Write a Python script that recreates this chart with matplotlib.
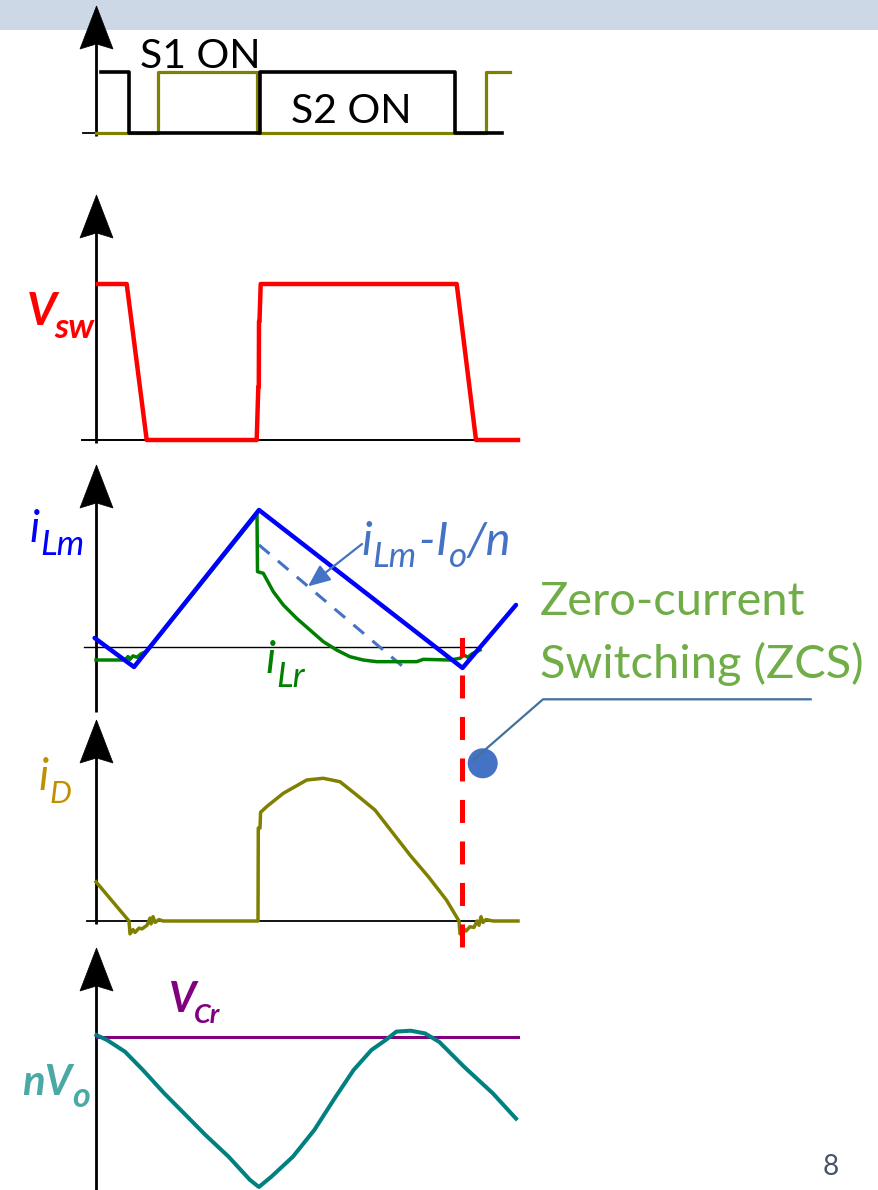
import matplotlib
matplotlib.use("Agg")
import matplotlib.pyplot as plt
from matplotlib.patches import Rectangle, Circle, Polygon, ConnectionPatch

plt.rcParams['font.family'] = ['Lato', 'DejaVu Sans']

W, H, DPI = 879, 1190, 100

# ---------------- waveform data (time in us, amplitudes normalised) ----------------
# gate drive of S1 and S2 (step levels, held until the next instant)
s1_t = [0.04, 0.32, 1.635, 3.58, 4.05]
s1_gate = [1, 0, 1, 0, 0]
s2_t = [-0.01, 0.615, 1.60, 3.895, 4.13]
s2_gate = [0, 1, 0, 1, 1]

# switch-node voltage
vsw_t = [0.01, 0.297, 0.497, 1.597, 1.613, 1.618, 1.62, 1.625, 1.637, 3.597, 3.79, 4.21]
vsw_v = [1.0, 1.0, 0.0, 0.0, 0.34, 0.34, 0.76, 0.76, 1.0, 1.0, 0.0, 0.0]

# magnetising current
ilm_t = [-0.024, 0.37, 1.62, 3.655, 4.19]
ilm_v = [0.066, -0.146, 1.0, -0.153, 0.307]

# magnetising current minus reflected load current
ilm_io_t = [1.62, 3.07]
ilm_io_v = [0.745, -0.15]

# resonant inductor current
ilr_t = [-0.01, 0.28, 0.31, 0.33, 0.36, 0.40, 0.44, 0.50, 1.60, 1.605, 1.663,
         1.763, 1.863, 1.997, 2.13, 2.263, 2.397, 2.53, 2.663, 2.797, 3.197, 3.263,
         3.53, 3.63, 3.67, 3.71, 3.75, 3.83]
ilr_v = [-0.095, -0.095, -0.07, -0.09, -0.065, -0.075, -0.05, -0.03, 0.97, 0.55, 0.538,
         0.404, 0.307, 0.209, 0.124, 0.039, -0.022, -0.071, -0.095, -0.107, -0.107, -0.09,
         -0.095, -0.082, -0.06, -0.075, -0.05, -0.022]

# output rectifier diode current
id_t = [-0.01, 0.32, 0.33, 0.36, 0.38, 0.42, 0.45, 0.50, 0.53, 0.54, 0.56, 0.58, 0.62,
        0.66, 1.61, 1.613, 1.63, 1.636, 1.697, 1.863, 2.097, 2.263, 2.43, 2.597, 2.78,
        2.959, 3.137, 3.316, 3.494, 3.62, 3.63, 3.66, 3.69, 3.73, 3.77, 3.80, 3.82, 3.84,
        3.86, 3.89, 3.96, 4.21]
id_v = [0.274, 0.0, -0.09, -0.06, -0.08, -0.05, -0.055, -0.03, 0.02, -0.02, 0.03, -0.01, 0.01,
        0.0, 0.0, 0.65, 0.65, 0.76, 0.80, 0.893, 0.986, 0.998, 0.974, 0.881, 0.776,
        0.615, 0.455, 0.308, 0.147, 0.0, -0.09, -0.05, -0.07, -0.04, -0.045, 0.0, -0.03, 0.03,
        -0.01, 0.01, 0.0, 0.0]

# flat level and resonant capacitor waveform
vcr_t = [0.0, 4.21]
vcr_v = [1.0, 1.0]
nvo_t = [-0.006, 0.1, 0.28, 0.459, 0.673, 0.887, 1.084, 1.316, 1.53, 1.619, 1.744, 1.959,
         2.173, 2.387, 2.566, 2.744, 2.887, 2.994, 3.137, 3.28, 3.423, 3.673, 3.959, 4.19]
nvo_v = [1.013, 0.98, 0.902, 0.78, 0.624, 0.48, 0.347, 0.202, 0.047, 0.0, 0.069, 0.202,
         0.38, 0.602, 0.78, 0.913, 0.98, 1.036, 1.042, 1.024, 0.967, 0.8, 0.624, 0.456]

t_zcs = 3.655

# ---------------- figure ----------------
fig = plt.figure(figsize=(W / DPI, H / DPI), dpi=DPI)
fig.patch.set_facecolor('white')
renderer = fig.canvas.get_renderer()

ov = fig.add_axes([0, 0, 1, 1], zorder=-1)
ov.set_xlim(0, W)
ov.set_ylim(H, 0)
ov.axis('off')


def panel(top, bottom, y0, unit):
    ax = fig.add_axes([0, 1 - bottom / H, 1, (bottom - top) / H])
    ax.set_xlim(-0.97, 7.82)
    ax.set_ylim((y0 - bottom) / unit, (y0 - top) / unit)
    ax.axis('off')
    ax.patch.set_alpha(0)
    return ax


def px_text(x, y, s, size_px, color, style='normal', weight='normal'):
    return fig.text(x / W, 1 - y / H, s, fontsize=size_px * 72 / DPI, color=color,
                    fontstyle=style, fontweight=weight, ha='left', va='baseline')


def label(x, y, parts, color, style='italic', weight='normal'):
    """Lay out runs left to right: (text, size_px, baseline shift px, gap px)."""
    for s, size_px, dy, gap in parts:
        t = px_text(x, y + dy, s, size_px, color, style, weight)
        x += t.get_window_extent(renderer).width + gap


# header band
ov.add_patch(Rectangle((0, 0), W, 30, facecolor='#CCD8E6', edgecolor='none'))

# vertical axes with arrow heads
AX_X = 96.5
for tip, bottom in [(6, 136), (195, 443), (465, 712), (720, 924), (948, 1190)]:
    ov.plot([AX_X, AX_X], [tip + 30, bottom], color='black', lw=2.0, solid_capstyle='butt')
    ov.add_patch(Polygon([(AX_X, tip), (AX_X - 16.5, tip + 43), (AX_X, tip + 38),
                          (AX_X + 16.5, tip + 43)], closed=True, facecolor='black',
                         edgecolor='black', lw=0.5))

# callout for the zero-current switching instant
ov.add_patch(Circle((482.7, 763.3), 15, facecolor='#4472C4', edgecolor='none'))
ov.plot([810.7, 543, 473.3], [699.3, 699.3, 760], color='#41719C', lw=1.6)

# ---- panel 1: gate signals ----
ax1 = panel(0, 160, 133, 61)
ax1.plot([-0.14, -0.01], [0, 0], color='black', lw=1.3)
ax1.plot(s2_t, s2_gate, drawstyle='steps-post', color='#808000', lw=2.3)
ax1.plot(s1_t, s1_gate, drawstyle='steps-post', color='black', lw=2.6)

# ---- panel 2: switch-node voltage ----
ax2 = panel(170, 460, 440, 156)
ax2.plot([-0.15, 4.21], [0, 0], color='black', lw=1.4)
ax2.plot(vsw_t, vsw_v, color='#FF0000', lw=3.2, solid_joinstyle='round')

# ---- panel 3: currents ----
ax3 = panel(460, 712, 647, 137)
ax3.plot([-0.13, 3.83], [0, 0], color='black', lw=1.0)
ax3.plot(ilm_io_t, ilm_io_v, color='#4472C4', lw=2.2, linestyle=(0, (4.5, 3.6)))
ax3.plot(ilr_t, ilr_v, color='#008000', lw=2.5, solid_joinstyle='round')
ax3.plot(ilm_t, ilm_v, color='#0000FF', lw=3.2, solid_joinstyle='round',
         solid_capstyle='round')

# pointer from the label to the dashed trace
t_ptr = 2.11
v_ptr = ilm_io_v[0] + (ilm_io_v[1] - ilm_io_v[0]) * (t_ptr - ilm_io_t[0]) / (ilm_io_t[1] - ilm_io_t[0])
ax3.annotate('', xy=(t_ptr, v_ptr), xycoords='data',
             xytext=(362 / W, 1 - 544 / H), textcoords='figure fraction',
             arrowprops=dict(arrowstyle='-|>,head_length=0.75,head_width=0.32',
                             mutation_scale=18, color='#4472C4', lw=1.6,
                             shrinkA=0, shrinkB=0))

# ---- panel 4: diode current ----
ax4 = panel(712, 948, 921, 143)
ax4.plot([-0.1, 4.21], [0, 0], color='black', lw=1.3)
ax4.plot(id_t, id_v, color='#808000', lw=2.5, solid_joinstyle='round')

# ---- panel 5: capacitor voltage ----
ax5 = panel(945, 1190, 1187, 150)
ax5.plot(vcr_t, vcr_v, color='#800080', lw=2.2)
ax5.plot(nvo_t, nvo_v, color='#008080', lw=2.9, solid_joinstyle='round')

# ZCS marker spanning the current panels
zcs = ConnectionPatch(xyA=(t_zcs, 0.066), coordsA=ax3.transData,
                      xyB=(t_zcs, -0.189), coordsB=ax4.transData,
                      color='#FF0000', lw=3.6, linestyle=(0.8, (4.6, 3.7)),
                      capstyle='butt', zorder=5)
fig.add_artist(zcs)

# ---------------- labels ----------------
px_text(140, 68, 'S1 ON', 41, 'black')
px_text(291, 123, 'S2 ON', 41, 'black')

label(27, 325, [('V', 46, 0, -3), ('sw', 35, 13, 0)], '#FF0000', weight='bold')
label(29, 542, [('i', 44, 0, 1), ('Lm', 35, 13, 0)], '#0000FF')
label(361, 555, [('i', 47, 0, 1), ('Lm', 35, 12, 1), ('-', 47, 0, 1), ('I', 47, 0, 1),
                 ('o', 35, 12, 0), ('/n', 47, 0, 0)], '#4472C4')
label(265, 673, [('i', 44, 0, 1), ('Lr', 35, 14, 0)], '#008000')
label(38, 790, [('i', 44, 0, 1), ('D', 31, 13, 0)], '#BF9000')
label(169, 1012, [('V', 42, 0, -2), ('Cr', 27, 11, 0)], '#800080', weight='bold')
label(22, 1095, [('nV', 42, 0, 0), ('o', 34, 12, 0)], '#4AA8A5', weight='bold')

px_text(540, 615, 'Zero-current', 47, '#70AD47')
px_text(540, 678, 'Switching (ZCS)', 47, '#70AD47')

px_text(823, 1175, '8', 28, '#44546A')

fig.savefig('out.png', dpi=DPI)
